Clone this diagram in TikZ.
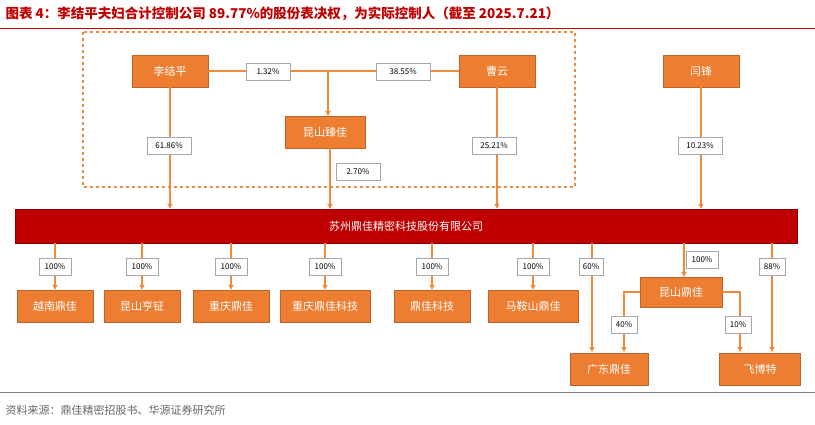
\documentclass[tikz,border=0pt]{standalone}
\usepackage{fontspec}
\setmainfont{Noto Sans CJK SC}
\usetikzlibrary{arrows.meta, positioning, calc}
\definecolor{orbox}{HTML}{ED7D31}
\definecolor{orline}{HTML}{F08A3C}
\definecolor{darkred}{HTML}{C00000}
\begin{document}
\begin{tikzpicture}[x=1pt,y=-1pt,
		box/.style={draw=orbox!80!black, fill=orbox, text=white, minimum width=76pt, minimum height=32pt, inner sep=1pt, font=\fontsize{11}{12}\selectfont},
		pct/.style={draw=gray!70, fill=white, minimum width=44pt, minimum height=17pt, inner sep=1pt, font=\fontsize{8}{9}\selectfont},
		link/.style={draw=orline, line width=1.2pt},
		arr/.style={link, -{Triangle[length=5pt,width=5pt]}}]
	\useasboundingbox (0,0) rectangle (815,425);
	% title
	\node[anchor=west, text=darkred, font=\bfseries\fontsize{13.5}{15}\selectfont] (title) at (2,14)
		{图表 4：李结平夫妇合计控制公司 89.77\%的股份表决权，为实际控制人（截至 2025.7.21）};
	\draw[darkred, line width=1pt] (0,29) -- (815,29);
	% dashed group
	\draw[orline, dashed, line width=1.3pt] (83,32) rectangle (575,187);
	% holders
	\node[box] (li) at (170,71) {李结平};
	\node[box] (cao) at (497,71) {曹云};
	\node[box] (yan) at (701,71) {闫锋};
	\node[box, minimum width=80pt] (zhen) at (325,132) {昆山臻佳};
	% main company
	\node[draw=darkred!70!black, fill=darkred, text=white, minimum width=782pt, minimum height=34pt,
		font=\fontsize{11}{12}\selectfont] (main) at (406,226) {苏州鼎佳精密科技股份有限公司};
	% shareholders links
	\draw[link] (li.east) -- (cao.west);
	\draw[arr] (328,71) -- (328,116);
	\node[pct] at (268,72) {1.32\%};
	\node[pct, minimum width=54pt] at (403,72) {38.55\%};
	\draw[arr] (li.south) -- (li.south |- main.north);
	\draw[arr] (cao.south) -- (cao.south |- main.north);
	\draw[arr] (yan.south) -- (yan.south |- main.north);
	\draw[arr] (330,148) -- (330,209);
	\node[pct] at (169,146) {61.86\%};
	\node[pct] at (494,146) {25.21\%};
	\node[pct] at (700,146) {10.23\%};
	\node[pct] at (358,172) {2.70\%};
	% subsidiaries
	\foreach \nm/\x/\w/\txt in {yn/55/76/越南鼎佳, ksh/142/76/昆山亨钲, cq/231/76/重庆鼎佳,
			cqk/325/90/重庆鼎佳科技, djk/432/76/鼎佳科技, mas/533/90/马鞍山鼎佳} {
		\node[box, minimum width=\w pt] (\nm) at (\x,306) {\txt};
		\draw[arr] (\x,243) -- (\nm.north);
		\node[pct, minimum width=32pt] at (\x,267) {100\%};
	}
	\node[box, minimum width=82pt, minimum height=30pt] (ksdj) at (681,292) {昆山鼎佳};
	\node[box, minimum width=78pt] (gd) at (609,369) {广东鼎佳};
	\node[box, minimum width=81pt] (fbt) at (760,369) {飞博特};
	\draw[arr] (592,243) -- (592,352);
	\node[pct, minimum width=24pt] at (591,267) {60\%};
	\draw[arr] (684,243) -- (684,277);
	\node[pct, minimum width=32pt] at (702,260) {100\%};
	\draw[arr] (772,243) -- (772,352);
	\node[pct, minimum width=26pt] at (772,267) {88\%};
	\draw[link] (ksdj.west) -- (624,292);
	\draw[arr] (624,291.4) -- (624,352);
	\node[pct, minimum width=26pt] at (624,325) {40\%};
	\draw[link] (ksdj.east) -- (740,292);
	\draw[arr] (740,291.4) -- (740,352);
	\node[pct, minimum width=26pt] at (738,325) {10\%};
	% source
	\draw[gray, line width=0.8pt] (0,392) -- (815,392);
	\node[anchor=west, text=gray!80!black, font=\fontsize{11}{12}\selectfont] (src) at (2,410)
		{资料来源：鼎佳精密招股书、华源证券研究所};
\end{tikzpicture}
\end{document}
